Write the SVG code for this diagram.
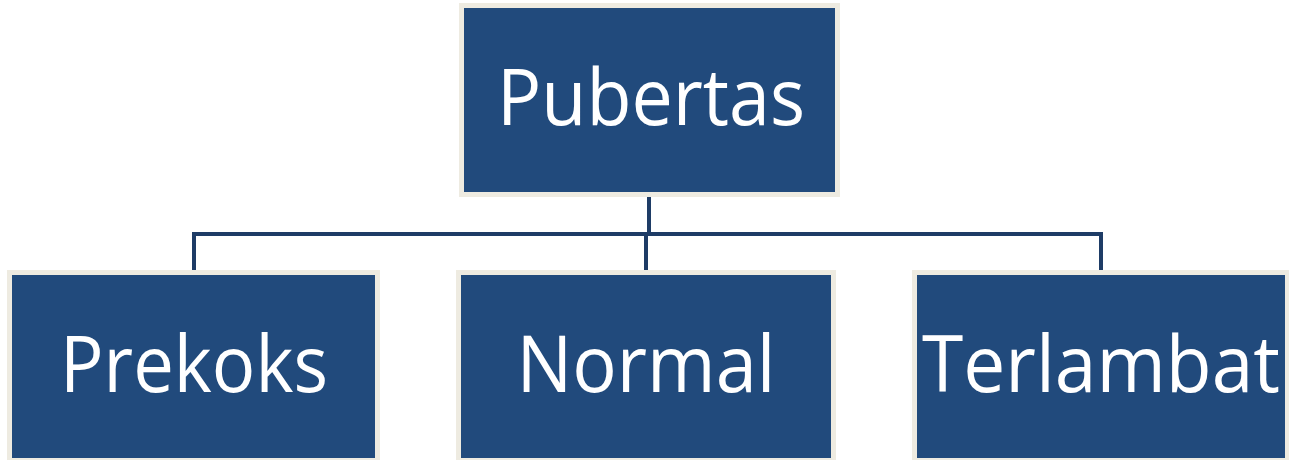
<svg xmlns="http://www.w3.org/2000/svg" width="1289" height="460" viewBox="0 0 1289 460">
<style>
.box{fill:#214A7C;stroke:#EEEBE1;stroke-width:5}
.lbl{fill:#FFFFFF;font-family:"Open Sans","Noto Sans",sans-serif;font-size:79px;text-anchor:middle}
.con{fill:none;stroke:#1E3C66;stroke-width:4}
</style>
<rect width="1289" height="460" fill="#FFFFFF"/>
<g id="connectors">
<path class="con" d="M649 195V234"/>
<path class="con" d="M194 270V234H1101V270"/>
<path class="con" d="M646 234V270"/>
</g>
<g id="node-pubertas">
<rect class="box" x="461.5" y="5.5" width="376" height="189"/>
<text class="lbl" x="651" y="125" textLength="308" lengthAdjust="spacingAndGlyphs">Pubertas</text>
</g>
<g id="node-prekoks">
<rect class="box" x="9.5" y="272.5" width="368" height="188"/>
<text class="lbl" x="194" y="392" textLength="268" lengthAdjust="spacingAndGlyphs">Prekoks</text>
</g>
<g id="node-normal">
<rect class="box" x="458.5" y="272.5" width="375" height="188"/>
<text class="lbl" x="646" y="392" textLength="259" lengthAdjust="spacingAndGlyphs">Normal</text>
</g>
<g id="node-terlambat">
<rect class="box" x="914.5" y="272.5" width="373" height="188"/>
<text class="lbl" x="1101" y="392" textLength="358" lengthAdjust="spacingAndGlyphs">Terlambat</text>
</g>
</svg>
